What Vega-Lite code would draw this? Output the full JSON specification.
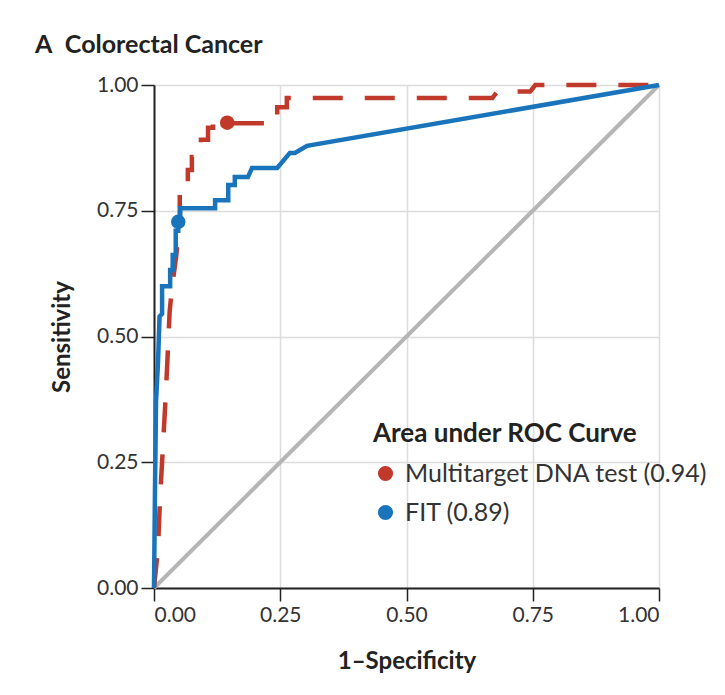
{
  "$schema": "https://vega.github.io/schema/vega-lite/v6.json",
  "width": 505,
  "height": 503,
  "autosize": {"type": "none"},
  "padding": {"left": 154, "top": 85, "right": 66, "bottom": 107},
  "background": "white",
  "title": {
    "text": "A\u2002Colorectal Cancer",
    "anchor": "start",
    "frame": "group",
    "dx": -119,
    "offset": -4,
    "baseline": "alphabetic",
    "font": "Lato",
    "fontSize": 25,
    "fontWeight": "bold",
    "color": "#222222"
  },
  "datasets": {
    "curves": [
      {"series": "ref", "i": 0, "x": 0, "y": 0},
      {"series": "ref", "i": 1, "x": 1, "y": 1},
      {"series": "mt", "i": 0, "x": 0, "y": 0},
      {"series": "mt", "i": 1, "x": 0.008, "y": 0.08},
      {"series": "mt", "i": 2, "x": 0.012, "y": 0.18},
      {"series": "mt", "i": 3, "x": 0.016, "y": 0.25},
      {"series": "mt", "i": 4, "x": 0.022, "y": 0.36},
      {"series": "mt", "i": 5, "x": 0.026, "y": 0.44},
      {"series": "mt", "i": 6, "x": 0.031, "y": 0.55},
      {"series": "mt", "i": 7, "x": 0.036, "y": 0.6},
      {"series": "mt", "i": 8, "x": 0.044, "y": 0.66},
      {"series": "mt", "i": 9, "x": 0.051, "y": 0.737},
      {"series": "mt", "i": 10, "x": 0.051, "y": 0.805},
      {"series": "mt", "i": 11, "x": 0.067, "y": 0.805},
      {"series": "mt", "i": 12, "x": 0.067, "y": 0.831},
      {"series": "mt", "i": 13, "x": 0.075, "y": 0.831},
      {"series": "mt", "i": 14, "x": 0.075, "y": 0.857},
      {"series": "mt", "i": 15, "x": 0.085, "y": 0.857},
      {"series": "mt", "i": 16, "x": 0.085, "y": 0.871},
      {"series": "mt", "i": 17, "x": 0.093, "y": 0.871},
      {"series": "mt", "i": 18, "x": 0.093, "y": 0.891},
      {"series": "mt", "i": 19, "x": 0.107, "y": 0.891},
      {"series": "mt", "i": 20, "x": 0.107, "y": 0.915},
      {"series": "mt", "i": 21, "x": 0.117, "y": 0.915},
      {"series": "mt", "i": 22, "x": 0.117, "y": 0.924},
      {"series": "mt", "i": 23, "x": 0.145, "y": 0.924},
      {"series": "mt", "i": 24, "x": 0.224, "y": 0.924},
      {"series": "mt", "i": 25, "x": 0.224, "y": 0.94},
      {"series": "mt", "i": 26, "x": 0.244, "y": 0.94},
      {"series": "mt", "i": 27, "x": 0.244, "y": 0.956},
      {"series": "mt", "i": 28, "x": 0.263, "y": 0.956},
      {"series": "mt", "i": 29, "x": 0.263, "y": 0.974},
      {"series": "mt", "i": 30, "x": 0.67, "y": 0.974},
      {"series": "mt", "i": 31, "x": 0.68, "y": 0.987},
      {"series": "mt", "i": 32, "x": 0.745, "y": 0.987},
      {"series": "mt", "i": 33, "x": 0.755, "y": 1.0},
      {"series": "mt", "i": 34, "x": 1.0, "y": 1.0},
      {"series": "fit", "i": 0, "x": 0, "y": 0},
      {"series": "fit", "i": 1, "x": 0.002, "y": 0.2},
      {"series": "fit", "i": 2, "x": 0.004, "y": 0.37},
      {"series": "fit", "i": 3, "x": 0.008, "y": 0.45},
      {"series": "fit", "i": 4, "x": 0.011, "y": 0.54},
      {"series": "fit", "i": 5, "x": 0.016, "y": 0.545},
      {"series": "fit", "i": 6, "x": 0.016, "y": 0.6},
      {"series": "fit", "i": 7, "x": 0.032, "y": 0.6},
      {"series": "fit", "i": 8, "x": 0.032, "y": 0.632},
      {"series": "fit", "i": 9, "x": 0.037, "y": 0.632},
      {"series": "fit", "i": 10, "x": 0.037, "y": 0.662},
      {"series": "fit", "i": 11, "x": 0.043, "y": 0.662},
      {"series": "fit", "i": 12, "x": 0.043, "y": 0.71},
      {"series": "fit", "i": 13, "x": 0.048, "y": 0.71},
      {"series": "fit", "i": 14, "x": 0.048, "y": 0.728},
      {"series": "fit", "i": 15, "x": 0.052, "y": 0.74},
      {"series": "fit", "i": 16, "x": 0.052, "y": 0.755},
      {"series": "fit", "i": 17, "x": 0.121, "y": 0.755},
      {"series": "fit", "i": 18, "x": 0.121, "y": 0.771},
      {"series": "fit", "i": 19, "x": 0.147, "y": 0.771},
      {"series": "fit", "i": 20, "x": 0.147, "y": 0.801},
      {"series": "fit", "i": 21, "x": 0.16, "y": 0.801},
      {"series": "fit", "i": 22, "x": 0.16, "y": 0.817},
      {"series": "fit", "i": 23, "x": 0.186, "y": 0.817},
      {"series": "fit", "i": 24, "x": 0.194, "y": 0.835},
      {"series": "fit", "i": 25, "x": 0.244, "y": 0.835},
      {"series": "fit", "i": 26, "x": 0.269, "y": 0.865},
      {"series": "fit", "i": 27, "x": 0.279, "y": 0.865},
      {"series": "fit", "i": 28, "x": 0.303, "y": 0.879},
      {"series": "fit", "i": 29, "x": 1.0, "y": 1.0}
    ],
    "dots": [
      {"test": "Multitarget DNA test (0.94)", "x": 0.145, "y": 0.925},
      {"test": "FIT (0.89)", "x": 0.048, "y": 0.728}
    ]
  },
  "encoding": {
    "x": {
      "field": "x", "type": "quantitative",
      "scale": {"domain": [0, 1], "nice": false, "zero": false},
      "axis": {
        "title": "1\u2013Specificity",
        "values": [0, 0.25, 0.5, 0.75, 1],
        "format": ".2f",
        "titlePadding": 24
      }
    },
    "y": {
      "field": "y", "type": "quantitative",
      "scale": {"domain": [0, 1], "nice": false, "zero": false},
      "axis": {
        "title": "Sensitivity",
        "values": [0, 0.25, 0.5, 0.75, 1],
        "format": ".2f",
        "titlePadding": 22
      }
    }
  },
  "layer": [
    {
      "data": {"name": "curves"},
      "transform": [{"filter": "datum.series === 'ref'"}],
      "mark": {"type": "line", "stroke": "#b5b5b5", "strokeWidth": 4, "clip": false},
      "encoding": {"order": {"field": "i", "type": "quantitative"}}
    },
    {
      "data": {"name": "curves"},
      "transform": [{"filter": "datum.series === 'mt'"}],
      "mark": {"type": "line", "stroke": "#c0392b", "strokeWidth": 4.5, "strokeDash": [30, 22], "clip": false},
      "encoding": {"order": {"field": "i", "type": "quantitative"}}
    },
    {
      "data": {"name": "curves"},
      "transform": [{"filter": "datum.series === 'fit'"}],
      "mark": {"type": "line", "stroke": "#1a74bb", "strokeWidth": 4.5, "clip": false},
      "encoding": {"order": {"field": "i", "type": "quantitative"}}
    },
    {
      "data": {"name": "dots"},
      "mark": {"type": "point", "filled": true, "shape": "circle", "size": 210, "opacity": 1},
      "encoding": {
        "color": {
          "field": "test", "type": "nominal",
          "scale": {"domain": ["Multitarget DNA test (0.94)", "FIT (0.89)"], "range": ["#c0392b", "#1a74bb"]},
          "legend": {
            "title": "Area under ROC Curve",
            "orient": "none",
            "legendX": 219,
            "legendY": 336,
            "symbolType": "circle",
            "symbolSize": 230,
            "symbolStrokeWidth": 0,
            "labelOffset": 7,
            "rowPadding": 13,
            "titlePadding": 14,
            "titleFont": "Lato",
            "titleFontSize": 26,
            "titleFontWeight": "bold",
            "titleColor": "#222222",
            "titleLimit": 500,
            "labelFont": "Lato",
            "labelFontSize": 25,
            "labelColor": "#333333",
            "labelLimit": 500
          }
        }
      }
    }
  ],
  "config": {
    "view": {"stroke": null},
    "axis": {
      "labelFont": "Lato",
      "labelFontSize": 21,
      "labelColor": "#333333",
      "titleFont": "Lato",
      "titleFontSize": 24,
      "titleFontWeight": "bold",
      "titleColor": "#222222",
      "domainColor": "#222222",
      "domainWidth": 2,
      "tickColor": "#222222",
      "tickWidth": 1.5,
      "tickSize": 13,
      "labelPadding": 3,
      "gridColor": "#dcdcdc",
      "gridWidth": 1.5
    }
  }
}
